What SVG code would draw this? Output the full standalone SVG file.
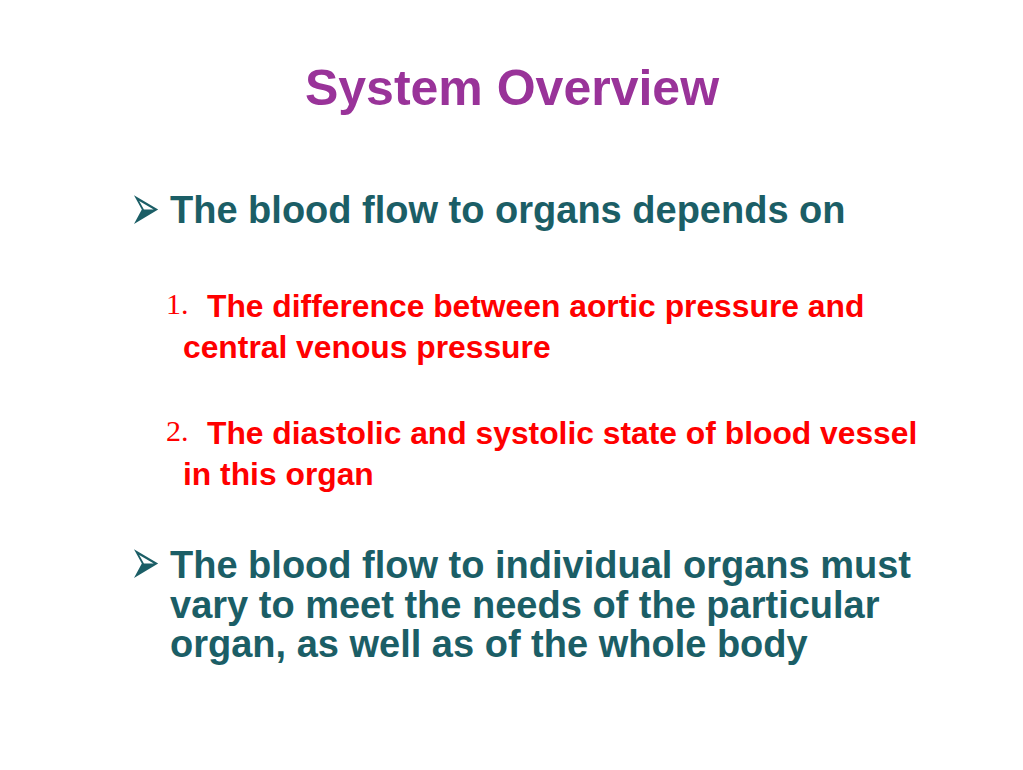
<svg xmlns="http://www.w3.org/2000/svg" width="1023" height="770" viewBox="0 0 1023 770">
<style>
.title{font-family:"Liberation Sans",Arial,sans-serif;font-weight:bold;font-size:50px;fill:#993399}
.main{font-family:"Liberation Sans",Arial,sans-serif;font-weight:bold;font-size:38px;fill:#1B5E66}
.sub{font-family:"Liberation Sans",Arial,sans-serif;font-weight:bold;font-size:31.8px;fill:#FF0000}
.num{font-family:"Liberation Serif","Times New Roman",serif;font-size:30px;fill:#FF0000}
.bul{font-family:"DejaVu Sans",sans-serif;font-size:42px;fill:#1B5E66}
</style>
<rect width="1023" height="770" fill="#FFFFFF"/>
<g id="title">
<text class="title" x="512" y="105" text-anchor="middle">System Overview</text>
</g>
<g id="bullet1">
<text class="bul" transform="translate(130,230) scale(0.85,1.55)">➢</text>
<text class="main" x="170" y="223">The blood flow to organs depends on</text>
</g>
<g id="item1">
<text class="num" x="166" y="314">1.</text>
<text class="sub" x="207" y="317">The difference between aortic pressure and</text>
<text class="sub" x="183" y="358">central venous pressure</text>
</g>
<g id="item2">
<text class="num" x="166" y="441">2.</text>
<text class="sub" x="207" y="444">The diastolic and systolic state of blood vessel</text>
<text class="sub" x="183" y="485">in this organ</text>
</g>
<g id="bullet2">
<text class="bul" transform="translate(130,584) scale(0.85,1.55)">➢</text>
<text class="main" x="170" y="578">The blood flow to individual organs must</text>
<text class="main" x="170" y="618">vary to meet the needs of the particular</text>
<text class="main" x="170" y="657">organ, as well as of the whole body</text>
</g>
</svg>
